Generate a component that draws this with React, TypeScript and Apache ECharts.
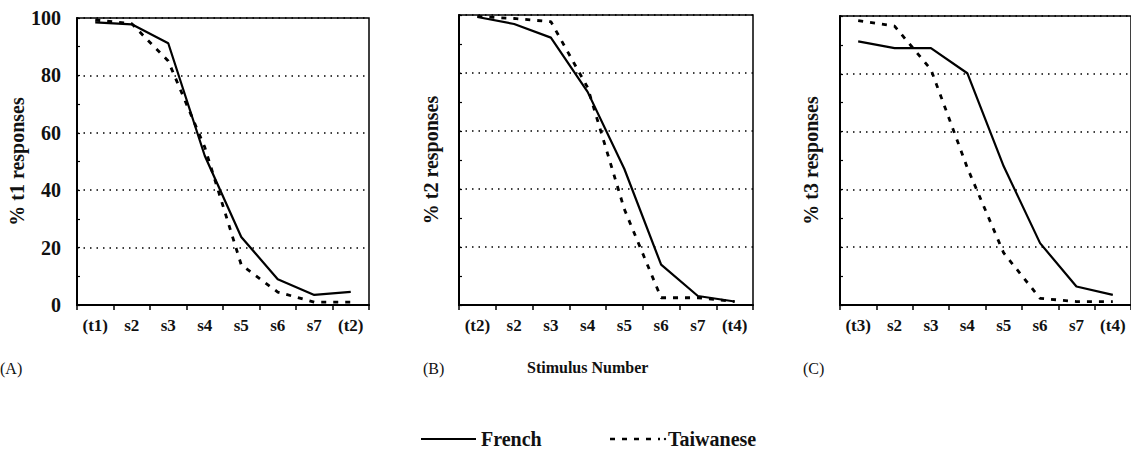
import React, { useEffect, useRef } from "react";
import * as echarts from "echarts";

const catsA = ["(t1)", "s2", "s3", "s4", "s5", "s6", "s7", "(t2)"];
const catsB = ["(t2)", "s2", "s3", "s4", "s5", "s6", "s7", "(t4)"];
const catsC = ["(t3)", "s2", "s3", "s4", "s5", "s6", "s7", "(t4)"];

const frenchA = [98.5, 97.8, 91.2, 52, 23.7, 9, 3.5, 4.6];
const taiwanA = [99.3, 98, 85, 55, 14, 4.5, 1, 1];
const frenchB = [99.3, 96.9, 92.2, 73.5, 46.9, 13.9, 3.1, 1.2];
const taiwanB = [99.5, 98.8, 97.7, 75, 33, 2.5, 2.5, 1.2];
const frenchC = [91.2, 88.9, 88.9, 80.2, 48, 21.4, 6.4, 3.5];
const taiwanC = [98.4, 96.5, 81.5, 47.5, 18, 2.3, 1.2, 1.2];

const yNames = ["% t1 responses", "% t2 responses", "% t3 responses"];
const panelLetters = ["(A)", "(B)", "(C)"];
const seriesNames = ["French", "Taiwanese"];

const FONT = "Liberation Serif";

export default function App() {
  const ref = useRef<HTMLDivElement>(null);
  useEffect(() => {
    if (!ref.current) return;
    const chart = echarts.init(ref.current, null, { renderer: "svg" });
    const grids = [
      { left: 77, top: 18, width: 292, height: 287 },
      { left: 459, top: 15, width: 294, height: 290 },
      { left: 840, top: 16, width: 293, height: 289 },
    ];
    const cats = [catsA, catsB, catsC];
    const fr = [frenchA, frenchB, frenchC];
    const tw = [taiwanA, taiwanB, taiwanC];
    const nameGaps = [44, 18, 19];
    const option: any = {
      animation: false,
      backgroundColor: "#fff",
      grid: grids.map((g) => ({
        ...g,
        show: true,
        borderColor: "#000",
        borderWidth: 1.5,
        backgroundColor: "transparent",
        containLabel: false,
      })),
      xAxis: cats.map((c, i) => ({
        type: "category",
        gridIndex: i,
        data: c,
        boundaryGap: true,
        axisLine: { show: true, lineStyle: { color: "#000", width: 2 } },
        axisTick: { show: true, inside: false, length: 5, lineStyle: { color: "#000", width: 1.5 } },
        axisLabel: {
          margin: 12,
          color: "#111",
          fontFamily: FONT,
          fontWeight: "bold",
          fontSize: 17,
        },
        splitLine: { show: false },
      })),
      yAxis: [0, 1, 2].map((i) => ({
        type: "value",
        gridIndex: i,
        min: 0,
        max: 100,
        interval: 20,
        name: yNames[i],
        nameLocation: "middle",
        nameGap: nameGaps[i],
        nameTextStyle: {
          color: "#111",
          fontFamily: FONT,
          fontWeight: "bold",
          fontSize: 20,
        },
        axisLine: { show: true, lineStyle: { color: "#000", width: 2 } },
        axisTick: { show: true, inside: true, length: 3, lineStyle: { color: "#000", width: 1.2 } },
        minorTick: { show: true, splitNumber: 2, length: 3, lineStyle: { color: "#000", width: 1.2 } },
        axisLabel: {
          show: i === 0,
          margin: 16,
          color: "#111",
          fontFamily: FONT,
          fontWeight: "bold",
          fontSize: 20,
        },
        splitLine: {
          show: true,
          lineStyle: { color: "#000", width: 1.5, type: [1.5, 5] },
        },
      })),
      series: [0, 1, 2].flatMap((i) => [
        {
          name: seriesNames[0],
          type: "line",
          xAxisIndex: i,
          yAxisIndex: i,
          data: fr[i],
          symbol: "none",
          lineStyle: { color: "#000", width: 2.2, type: "solid" },
          z: 3,
        },
        {
          name: seriesNames[1],
          type: "line",
          xAxisIndex: i,
          yAxisIndex: i,
          data: tw[i],
          symbol: "none",
          lineStyle: { color: "#000", width: 2.8, type: [5, 7] },
          z: 3,
        },
      ]),
      graphic: [
        ...panelLetters.map((t, i) => ({
          type: "text",
          left: [0, 423, 803][i],
          top: 360,
          style: { text: t, font: `16px "${FONT}"`, fill: "#111" },
        })),
        {
          type: "text",
          left: 527,
          top: 359,
          style: { text: "Stimulus Number", font: `bold 16px "${FONT}"`, fill: "#111" },
        },
        {
          type: "line",
          shape: { x1: 421, y1: 439, x2: 476, y2: 439 },
          style: { stroke: "#000", lineWidth: 2 },
        },
        {
          type: "text",
          x: 481,
          y: 439,
          style: {
            text: seriesNames[0],
            font: `bold 20px "${FONT}"`,
            fill: "#111",
            verticalAlign: "middle",
            align: "left",
          },
        },
        {
          type: "line",
          shape: { x1: 610, y1: 439, x2: 660, y2: 439 },
          style: { stroke: "#000", lineWidth: 2.4, lineDash: [5, 7] },
        },
        {
          type: "circle",
          shape: { cx: 665, cy: 439, r: 1.2 },
          style: { fill: "#000" },
        },
        {
          type: "text",
          x: 668,
          y: 439,
          style: {
            text: seriesNames[1],
            font: `bold 20px "${FONT}"`,
            fill: "#111",
            verticalAlign: "middle",
            align: "left",
          },
        },
      ],
    };
    chart.setOption(option);
    return () => chart.dispose();
  }, []);
  return (
    <div
      ref={ref}
      style={{ position: "fixed", left: 0, top: 0, width: 1131, height: 450, background: "#fff" }}
    />
  );
}
